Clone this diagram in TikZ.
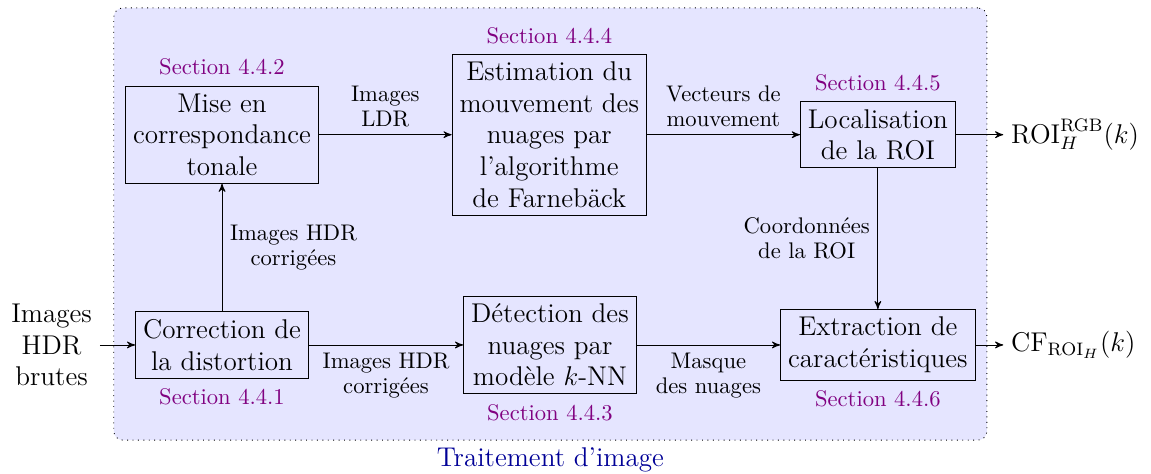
\documentclass[tikz,border=0pt]{standalone}
\usepackage{xcolor}
\usepackage{amsmath}
\usepackage{amssymb}
\usepackage{tikz}
\usetikzlibrary{shapes.geometric, arrows, positioning, fit, backgrounds}
\definecolor{sectionviolet}{RGB}{128, 0, 128}
\definecolor{titleblue}{RGB}{0, 0, 150}

\begin{document}
\begin{tikzpicture}[
    >=stealth',
    block/.style={rectangle, draw, align=center, font=\large},
    secnum/.style={text=sectionviolet, inner sep=3.33pt},
    flowlabel/.style={font=\fontsize{10}{11}\selectfont, align=center},
    endtext/.style={font=\large, align=center}
]
    \useasboundingbox (-3.453,-2.006) rectangle (14.448,5.365);

    % blocs
    \node[block] (corr) at (0,0) {Correction de\\la distortion};
    \node[block] (mise) at (0,3.27) {Mise en\\correspondance\\tonale};
    \node[block] (estim) at (5.09,3.27) {Estimation du\\mouvement des\\nuages par\\l'algorithme\\de Farneb\"ack};
    \node[block] (det) at (5.10,0) {D\'etection des\\nuages par\\mod\`ele $k$-NN};
    \node[block] (loc) at (10.20,3.27) {Localisation\\de la ROI};
    \node[block] (extr) at (10.20,0) {Extraction de\\caract\'eristiques};

    % sections
    \node[secnum, above=1pt of mise] (s2) {Section 4.4.2};
    \node[secnum, above=1pt of estim] (s4) {Section 4.4.4};
    \node[secnum, above=1pt of loc] (s5) {Section 4.4.5};
    \node[secnum, below=1pt of corr] (s1) {Section 4.4.1};
    \node[secnum, below=1pt of det] (s3) {Section 4.4.3};
    \node[secnum, below=1pt of extr] (s6) {Section 4.4.6};

    % entree / sorties
    \node[endtext, anchor=east] (hdr) at (-1.90,0) {Images\\HDR\\brutes};
    \node[endtext, anchor=west] (roi) at (12.15,3.27) {$\mathrm{ROI}_H^{\mathrm{RGB}}(k)$};
    \node[endtext, anchor=west] (cf) at (12.15,0) {$\mathrm{CF}_{\mathrm{ROI}_H}(k)$};

    \begin{scope}[on background layer]
        \node[fit=(s4)(s3)(mise)(corr)(extr)(loc), draw, dotted, rounded corners=4pt,
              fill=blue!10, inner sep=5pt,
              label={[text=titleblue, font=\large, inner sep=3pt]below:Traitement d'image}] (proc) {};
    \end{scope}

    % fleches
    \draw[->] (hdr) -- (corr);
    \draw[->] (corr) -- node[flowlabel, right] {Images HDR\\corrig\'ees} (mise);
    \draw[->] (mise) -- node[flowlabel, above] {Images\\LDR} (estim);
    \draw[->] (estim) -- node[flowlabel, above] {Vecteurs de\\mouvement} (loc);
    \draw[->] (loc) -- (roi);
    \draw[->] (loc) -- node[flowlabel, left] {Coordonn\'ees\\de la ROI} (extr);
    \draw[->] (corr) -- node[flowlabel, below] {Images HDR\\corrig\'ees} (det);
    \draw[->] (det) -- node[flowlabel, below] {Masque\\des nuages} (extr);
    \draw[->] (extr) -- (cf);
\end{tikzpicture}
\end{document}
